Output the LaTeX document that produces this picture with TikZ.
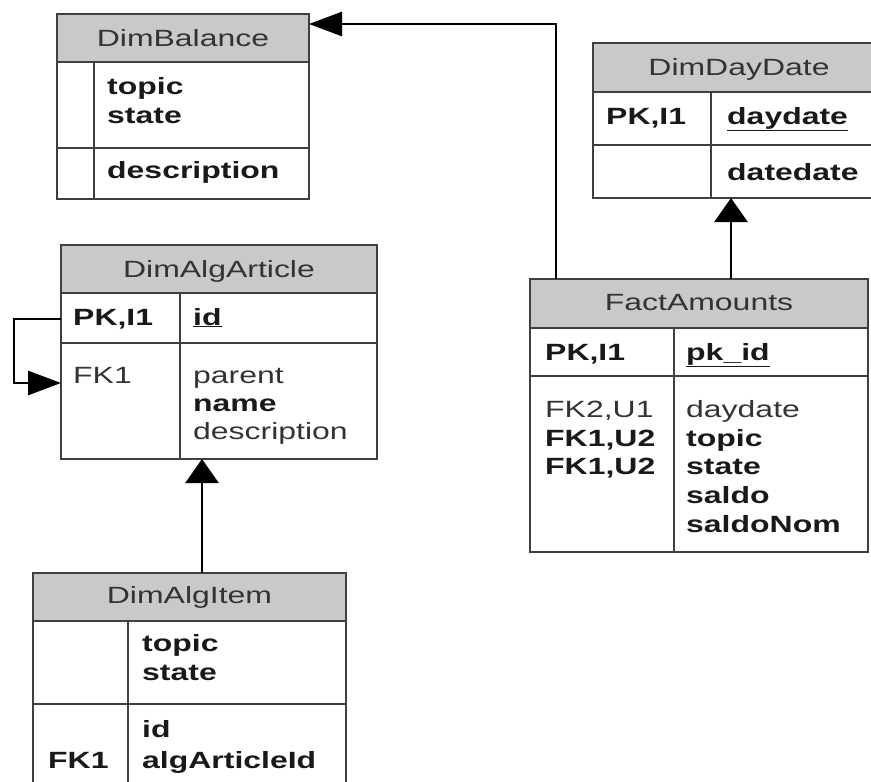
\documentclass[tikz,border=0pt]{standalone}
\usepackage{fontspec}
\setmainfont{Liberation Sans}[FakeStretch=1.36]
\usetikzlibrary{arrows.meta}
\newcommand{\fs}{\fontsize{23.5}{28}\selectfont}
\begin{document}
\begin{tikzpicture}[x=1pt,y=-1pt,
  tbl/.style={draw=black!75, line width=2pt, inner sep=0pt, outer sep=0pt, anchor=north west},
  hdr/.style={fill=black!21, draw=black!75, line width=2pt, inner sep=0pt, outer sep=0pt, anchor=north west},
  sepline/.style={draw=black!75, line width=2pt},
  ttl/.style={font=\fs, text=black!80, anchor=base, inner sep=0pt},
  fld/.style={font=\fs, text=black!80, anchor=base west, inner sep=0pt},
  bfld/.style={font=\fs\bfseries, text=black!90, anchor=base west, inner sep=0pt},
  conn/.style={draw=black, line width=2.8pt},
  varrow/.style={-{Triangle[length=24pt,width=33pt]}},
  harrow/.style={-{Triangle[length=33pt,width=24pt]}}
]
\useasboundingbox (0,0) rectangle (871,782);

% ---------- DimBalance ----------
\node[hdr, minimum width=252pt, minimum height=48pt] (balh) at (57,14) {};
\node[tbl, minimum width=252pt, minimum height=185pt] (bal) at (57,14) {};
\draw[sepline] (94,62) -- (94,199);
\draw[sepline] (57,148) -- (309,148);
\node[ttl] (balt) at (183,46) {DimBalance};
\node[bfld] (bal1) at (107,94) {topic};
\node[bfld] (bal2) at (107,123) {state};
\node[bfld] (bal3) at (107,178) {description};

% ---------- DimDayDate ----------
\node[hdr, minimum width=292pt, minimum height=49pt] (dayh) at (593,43) {};
\node[tbl, minimum width=292pt, minimum height=155pt] (day) at (593,43) {};
\draw[sepline] (711,92) -- (711,198);
\draw[sepline] (593,145) -- (885,145);
\node[ttl] (dayt) at (739,75) {DimDayDate};
\node[bfld] (day1) at (606,124) {PK,I1};
\node[bfld] (day2) at (727,124) {\underline{daydate}};
\node[bfld] (day3) at (727,180) {datedate};

% ---------- DimAlgArticle ----------
\node[hdr, minimum width=316pt, minimum height=48pt] (arth) at (61,245) {};
\node[tbl, minimum width=316pt, minimum height=214pt] (art) at (61,245) {};
\draw[sepline] (180,293) -- (180,459);
\draw[sepline] (61,343) -- (377,343);
\node[ttl] (artt) at (219,277) {DimAlgArticle};
\node[bfld] (art1) at (73,325) {PK,I1};
\node[bfld] (art2) at (193,325) {\underline{id}};
\node[fld] (art3) at (73,383) {FK1};
\node[fld] (art4) at (193,383) {parent};
\node[bfld] (art5) at (193,411) {name};
\node[fld] (art6) at (193,439) {description};

% ---------- FactAmounts ----------
\node[hdr, minimum width=338pt, minimum height=49pt] (facth) at (530,279) {};
\node[tbl, minimum width=338pt, minimum height=273pt] (fact) at (530,279) {};
\draw[sepline] (674,328) -- (674,552);
\draw[sepline] (530,376) -- (868,376);
\node[ttl] (factt) at (699,310) {FactAmounts};
\node[bfld] (fact1) at (545,360) {PK,I1};
\node[bfld] (fact2) at (686,360) {\underline{pk\_id}};
\node[fld] (fact3) at (545,417) {FK2,U1};
\node[bfld] (fact4) at (545,446) {FK1,U2};
\node[bfld] (fact5) at (545,474) {FK1,U2};
\node[fld] (fact6) at (686,417) {daydate};
\node[bfld] (fact7) at (686,446) {topic};
\node[bfld] (fact8) at (686,474) {state};
\node[bfld] (fact9) at (686,503) {saldo};
\node[bfld] (fact10) at (686,532) {saldoNom};

% ---------- DimAlgItem ----------
\node[hdr, minimum width=313pt, minimum height=48pt] (itemh) at (33,573) {};
\node[tbl, minimum width=313pt, minimum height=222pt] (item) at (33,573) {};
\draw[sepline] (128,621) -- (128,795);
\draw[sepline] (33,704) -- (346,704);
\node[ttl] (itemt) at (189.5,603) {DimAlgItem};
\node[bfld] (item1) at (142,651) {topic};
\node[bfld] (item2) at (142,680) {state};
\node[bfld] (item3) at (142,737) {id};
\node[bfld] (item4) at (48,768) {FK1};
\node[bfld] (item5) at (142,768) {algArticleId};

% ---------- connectors ----------
\coordinate (bend) at (556,24);
\draw[conn, harrow] (fact.north -| bend) -- (bend) -- (bend -| bal.east);
\coordinate (dayx) at (731,0);
\draw[conn, varrow] (fact.north -| dayx) -- (day.south -| dayx);
\coordinate (artx) at (202,0);
\draw[conn, varrow] (item.north -| artx) -- (art.south -| artx);
\coordinate (loopa) at (14,319);
\coordinate (loopb) at (14,383);
\draw[conn, harrow] (art.west |- loopa) -- (loopa) -- (loopb) -- (art.west |- loopb);
\end{tikzpicture}
\end{document}
